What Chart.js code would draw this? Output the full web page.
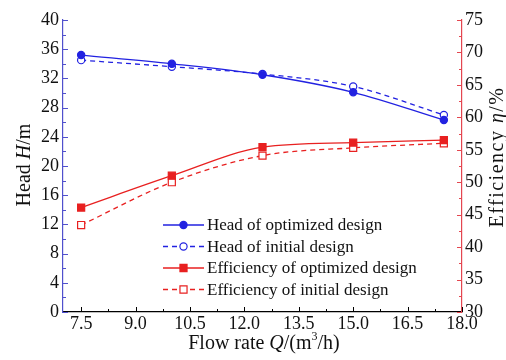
<!DOCTYPE html>
<html>
<head>
<meta charset="utf-8">
<script src="https://cdn.jsdelivr.net/npm/chart.js@4/dist/chart.umd.min.js"></script>
<style>
  html, body { margin: 0; padding: 0; background: #ffffff; }
  #wrap { width: 506px; height: 360px; }
</style>
</head>
<body>
<div id="wrap"><canvas id="c" width="506" height="360"></canvas></div>
<script>
// Flow rate operating points (m3/h)
const flowRates = [7.5, 10, 12.5, 15, 17.5];

// Head H (m)
const headOptimized = [35.2, 34.0, 32.5, 30.1, 26.3];
const headInitial   = [34.5, 33.6, 32.6, 30.9, 27.0];

// Efficiency eta (%)
const effOptimized = [46.1, 51.0, 55.4, 56.1, 56.5];
const effInitial   = [43.4, 50.0, 54.1, 55.3, 56.0];

// Axis tick labels
const xTickValues = [7.5, 9.0, 10.5, 12.0, 13.5, 15.0, 16.5, 18.0];
const headTicks = [0, 4, 8, 12, 16, 20, 24, 28, 32, 36, 40];
const effTicks = [30, 35, 40, 45, 50, 55, 60, 65, 70, 75];

const seriesLabels = [
  'Head of optimized design',
  'Head of initial design',
  'Efficiency of optimized design',
  'Efficiency of initial design'
];

const BLUE = 'rgb(34,34,225)';
const RED = 'rgb(232,32,32)';
const BLUE_AXIS = 'rgb(80,80,205)';
const RED_AXIS = 'rgb(228,70,80)';
const FONT = "'Liberation Serif', 'Times New Roman', serif";
const FS = 17;

Chart.defaults.font.family = FONT;
Chart.defaults.font.size = FS;

const toXY = (ys) => flowRates.map((x, i) => ({ x: x, y: ys[i] }));

// Inward major/minor tick marks on all three axes
const innerTicks = {
  id: 'innerTicks',
  afterDraw(chart) {
    const ctx = chart.ctx;
    const { x, yH, yE } = chart.scales;
    const area = chart.chartArea;
    ctx.save();
    ctx.lineWidth = 1;
    // bottom axis
    ctx.strokeStyle = '#000';
    ctx.beginPath();
    xTickValues.forEach(v => {
      const px = Math.round(x.getPixelForValue(v)) + 0.5;
      ctx.moveTo(px, area.bottom); ctx.lineTo(px, area.bottom - 5);
      const m = v - 0.75;
      if (m > x.min) {
        const pm = Math.round(x.getPixelForValue(m)) + 0.5;
        ctx.moveTo(pm, area.bottom); ctx.lineTo(pm, area.bottom - 3);
      }
    });
    ctx.stroke();
    // left axis
    ctx.strokeStyle = BLUE_AXIS;
    ctx.beginPath();
    headTicks.forEach(v => {
      const py = Math.round(yH.getPixelForValue(v)) + 0.5;
      ctx.moveTo(area.left, py); ctx.lineTo(area.left + 5, py);
      if (v > 0) {
        const pm = Math.round(yH.getPixelForValue(v - 2)) + 0.5;
        ctx.moveTo(area.left, pm); ctx.lineTo(area.left + 3, pm);
      }
    });
    ctx.stroke();
    // right axis
    ctx.strokeStyle = RED_AXIS;
    ctx.beginPath();
    effTicks.forEach(v => {
      const py = Math.round(yE.getPixelForValue(v)) + 0.5;
      ctx.moveTo(area.right, py); ctx.lineTo(area.right - 5, py);
      if (v > 30) {
        const pm = Math.round(yE.getPixelForValue(v - 2.5)) + 0.5;
        ctx.moveTo(area.right, pm); ctx.lineTo(area.right - 3, pm);
      }
    });
    ctx.stroke();
    ctx.restore();
  }
};

// Text made of runs with their own style; drawn centred on (cx, cy)
function drawRuns(ctx, runs, cx, cy, angle, size, spacing) {
  ctx.save();
  ctx.translate(cx, cy);
  ctx.rotate(angle);
  ctx.textBaseline = 'middle';
  ctx.textAlign = 'left';
  ctx.fillStyle = '#111';
  if (spacing) ctx.letterSpacing = spacing + 'px';
  let total = 0;
  runs.forEach(r => {
    ctx.font = (r.italic ? 'italic ' : '') + (r.size || size) + 'px ' + FONT;
    r.w = ctx.measureText(r.text).width;
    total += r.w;
  });
  let px = -total / 2;
  runs.forEach(r => {
    ctx.font = (r.italic ? 'italic ' : '') + (r.size || size) + 'px ' + FONT;
    ctx.fillText(r.text, px, r.dy || 0);
    px += r.w;
  });
  ctx.restore();
}

const axisTitles = {
  id: 'axisTitles',
  afterDraw(chart) {
    const ctx = chart.ctx;
    drawRuns(ctx, [
      { text: 'Flow rate ' }, { text: 'Q', italic: true }, { text: '/(m' },
      { text: '3', size: 12, dy: -7 }, { text: '/h)' }
    ], 264, 344, 0, 20);
    drawRuns(ctx, [
      { text: 'Head ' }, { text: 'H', italic: true }, { text: '/m' }
    ], 25, 165, -Math.PI / 2, 20);
    drawRuns(ctx, [
      { text: 'Efficiency ' }, { text: 'η', italic: true }, { text: '/%' }
    ], 498, 157, -Math.PI / 2, 20, 1.5);
  }
};

// Legend with a line sample and marker per series
const lineLegend = {
  id: 'lineLegend',
  afterDraw(chart) {
    const ctx = chart.ctx;
    const x0 = 163, x1 = 204, tx = 207, y0 = 225, dy = 21.5;
    chart.data.datasets.forEach((ds, i) => {
      const y = y0 + i * dy;
      ctx.save();
      ctx.strokeStyle = ds.borderColor;
      ctx.lineWidth = ds.borderWidth;
      ctx.setLineDash(ds.borderDash || []);
      ctx.beginPath();
      ctx.moveTo(x0, y); ctx.lineTo(x1, y);
      ctx.stroke();
      ctx.setLineDash([]);
      const cx = (x0 + x1) / 2;
      ctx.fillStyle = ds.pointBackgroundColor;
      ctx.lineWidth = ds.pointBorderWidth;
      ctx.beginPath();
      if (ds.pointStyle === 'rect') {
        const s = Math.SQRT1_2 * ds.pointRadius;
        ctx.rect(cx - s, y - s, 2 * s, 2 * s);
      } else {
        ctx.arc(cx, y, ds.pointRadius, 0, Math.PI * 2);
      }
      ctx.fill();
      ctx.stroke();
      ctx.font = FS + 'px ' + FONT;
      ctx.fillStyle = '#111';
      ctx.textBaseline = 'middle';
      ctx.textAlign = 'left';
      ctx.fillText(ds.label, tx, y + 1);
      ctx.restore();
    });
  }
};

function series(label, data, axis, color, dashed, style, filled) {
  return {
    label: label,
    data: data,
    yAxisID: axis,
    borderColor: color,
    borderWidth: 1.3,
    borderDash: dashed ? [5, 4] : [],
    cubicInterpolationMode: 'monotone',
    pointStyle: style,
    pointRadius: style === 'rect' ? 5 : 3.6,
    pointBorderWidth: 1.2,
    pointBorderColor: color,
    pointBackgroundColor: filled ? color : '#ffffff',
    fill: false
  };
}

const tickFont = { family: FONT, size: 18 };

new Chart(document.getElementById('c'), {
  type: 'line',
  data: {
    datasets: [
      series(seriesLabels[0], toXY(headOptimized), 'yH', BLUE, false, 'circle', true),
      series(seriesLabels[1], toXY(headInitial), 'yH', BLUE, true, 'circle', false),
      series(seriesLabels[2], toXY(effOptimized), 'yE', RED, false, 'rect', true),
      series(seriesLabels[3], toXY(effInitial), 'yE', RED, true, 'rect', false)
    ]
  },
  options: {
    responsive: false,
    devicePixelRatio: 1,
    animation: false,
    layout: { padding: { top: 20, left: 0, right: 0, bottom: 0 } },
    plugins: { legend: { display: false }, tooltip: { enabled: false } },
    scales: {
      x: {
        type: 'linear',
        min: 7, max: 18,
        afterBuildTicks: s => { s.ticks = xTickValues.map(v => ({ value: v })); },
        afterFit: s => { s.height = 48; },
        grid: { display: false, drawTicks: false },
        border: { display: true, color: '#000', width: 1.2 },
        ticks: {
          font: tickFont, color: '#111', padding: 1,
          maxRotation: 0, autoSkip: false,
          callback: v => Number(v).toFixed(1)
        }
      },
      yH: {
        type: 'linear', position: 'left',
        min: 0, max: 40,
        afterBuildTicks: s => { s.ticks = headTicks.map(v => ({ value: v })); },
        afterFit: s => { s.width = 63; },
        grid: { display: false, drawTicks: false },
        border: { display: true, color: BLUE_AXIS, width: 1.2 },
        ticks: { font: tickFont, color: '#111', padding: 4 }
      },
      yE: {
        type: 'linear', position: 'right',
        min: 30, max: 75,
        afterBuildTicks: s => { s.ticks = effTicks.map(v => ({ value: v })); },
        afterFit: s => { s.width = 44; },
        grid: { display: false, drawTicks: false },
        border: { display: true, color: RED_AXIS, width: 1.2 },
        ticks: { font: tickFont, color: '#111', padding: 3 }
      }
    }
  },
  plugins: [innerTicks, axisTitles, lineLegend]
});
</script>
</body>
</html>
